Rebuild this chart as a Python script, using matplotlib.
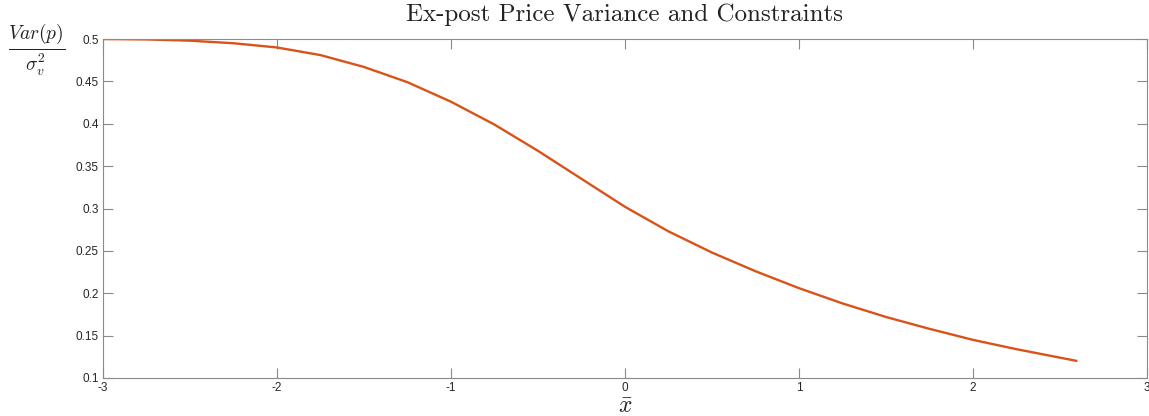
import matplotlib
matplotlib.use("Agg")
import matplotlib.pyplot as plt

x_bar = [-3.0, -2.75, -2.5, -2.25, -2.0, -1.75, -1.5, -1.25, -1.0, -0.75, -0.5, -0.25,
         0.0, 0.25, 0.5, 0.75, 1.0, 1.25, 1.5, 1.75, 2.0, 2.25, 2.5, 2.6]
var_ratio = [0.500, 0.4995, 0.498, 0.495, 0.490, 0.481, 0.467, 0.449, 0.426, 0.399, 0.368, 0.335,
             0.302, 0.273, 0.248, 0.226, 0.206, 0.188, 0.172, 0.158, 0.145, 0.134, 0.124, 0.120]
x_ticks = [-3, -2, -1, 0, 1, 2, 3]
y_ticks = [0.1, 0.15, 0.2, 0.25, 0.3, 0.35, 0.4, 0.45, 0.5]
y_tick_labels = ["0.1", "0.15", "0.2", "0.25", "0.3", "0.35", "0.4", "0.45", "0.5"]
title = "Ex-post Price Variance and Constraints"

plt.rcParams['axes.unicode_minus'] = False
plt.rcParams['mathtext.fontset'] = 'cm'
plt.rcParams['font.family'] = ['Liberation Sans', 'DejaVu Sans']

fig = plt.figure(figsize=(11.49, 4.16), dpi=100)
ax = fig.add_axes([103/1149, 38/416, (1147-103)/1149, (378-39)/416])

ax.plot(x_bar, var_ratio, color='#D95319', lw=1.7, solid_capstyle='butt',
        solid_joinstyle='round')
ax.set_xlim(-3, 3)
ax.set_ylim(0.1, 0.5)
ax.set_xticks(x_ticks)
ax.set_xticklabels([str(t) for t in x_ticks])
ax.set_yticks(y_ticks)
ax.set_yticklabels(y_tick_labels)

for s in ax.spines.values():
    s.set_color('#8a8a8a')
    s.set_linewidth(0.8)
ax.tick_params(direction='in', length=7, width=0.8, color='#8a8a8a',
               top=True, right=True, labelsize=8.5, labelcolor='#262626', pad=3)

ax.set_title(title, fontfamily='cmr10', fontsize=18, pad=13, color='#222222')
fig.text(37/1149, 1 - 50/416, r'$\frac{Var(p)}{\sigma_v^2}$', fontsize=20,
         ha='center', va='center', color='#222222')
fig.text(625/1149, 3/416, r'$\bar{x}$', fontsize=17, ha='center', va='baseline',
         color='#222222')

fig.savefig('out.png', dpi=100)
